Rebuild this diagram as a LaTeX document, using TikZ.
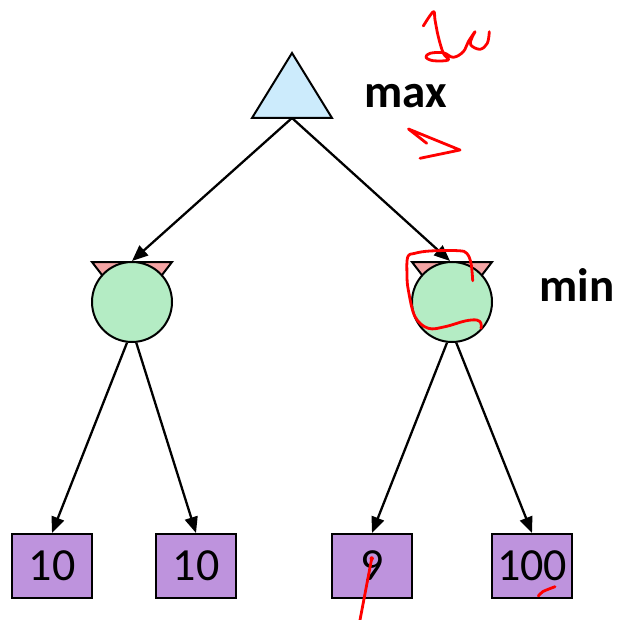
\documentclass[tikz,border=0pt]{standalone}
\usepackage{fontspec}
\setmainfont{Carlito}
\usetikzlibrary{arrows.meta}
\definecolor{maxblue}{RGB}{204,235,252}
\definecolor{mingreen}{RGB}{180,236,196}
\definecolor{earpink}{RGB}{244,164,164}
\definecolor{leafpurple}{RGB}{190,147,221}
\definecolor{inkred}{RGB}{255,0,0}
\tikzset{
  maxtri/.style={draw=black, line width=2pt, fill=maxblue, line join=miter},
  earstyle/.style={draw=black, line width=2pt, fill=earpink},
  minnode/.style={circle, draw=black, line width=2pt, fill=mingreen, minimum size=80pt, inner sep=0pt},
  leaf/.style={rectangle, draw=black, line width=2pt, fill=leafpurple, minimum width=80pt, minimum height=64pt, inner sep=0pt, font=\fontsize{46}{50}\selectfont},
  arr/.style={line width=2.3pt, -{Triangle[length=16pt,width=13pt]}},
  lbl/.style={font=\fontsize{47}{50}\selectfont\bfseries, anchor=base, inner sep=0pt},
  ink/.style={draw=inkred, line width=2.8pt, line cap=round, line join=round}
}
\begin{document}
\begin{tikzpicture}[x=1pt,y=-1pt]
\useasboundingbox (0,0) rectangle (618,620);
% max node
\draw[maxtri] (292,53) -- (332,118) -- (252,118) -- cycle;
\coordinate (maxbase) at (292,118);
\node[lbl] (maxlbl) at (406,108) {max};
% ears
\draw[earstyle] (92,262) -- (172,262) -- (132,314) -- cycle;
\draw[earstyle] (412,262) -- (492,262) -- (452,314) -- cycle;
% min nodes
\node[minnode] (L) at (132,302) {};
\node[minnode] (R) at (452,302) {};
\node[lbl] (minlbl) at (577,301.5) {min};
% leaves
\node[leaf] (b1) at (52,566) {10};
\node[leaf] (b2) at (196,566) {10};
\node[leaf] (b3) at (372,566) {9};
\node[leaf] (b4) at (532,566) {100};
% connectors
\draw[arr] (maxbase) -- (L.north);
\draw[arr] (maxbase) -- ([xshift=-2pt]R.north);
\draw[arr] (L.263) -- (b1.north);
\draw[arr] (L.276) -- (b2.north);
\draw[arr] (R.263) -- (b3.north);
\draw[arr] (R.276) -- (b4.north);
% red handwriting
\draw[ink] plot[smooth, tension=0.6] coordinates {(423.3,26) (433.3,11.7) (435,20) (438.3,36.7) (443.3,53.3) (448.3,60) (433.3,60.7) (426,57.3) (430,53.3) (443.3,52.7) (453.3,57.3) (463.3,51.7) (468.3,41.7) (475,31.7) (471.7,38.3) (470.7,45) (480,49.3) (487.3,43.3) (489.3,31.7)};
\draw[ink] (426.7,143.3) -- (408.5,129) -- (460,150) -- (420,158.3);
\draw[ink] plot[smooth, tension=0.6] coordinates {(472.7,280.7) (471,263.3) (466.7,253.3) (458.3,250.7) (430,251) (415,253.3) (407.7,257) (407,275) (408.3,290) (415,316.7) (428.3,328.3) (445,326.7) (465,321) (476.7,320) (481,323.3) (481,328.3)};
\draw[ink] (371.7,558.5) -- (360,620);
\fill[inkred] (371.7,558.5) circle (2.2pt);
\draw[ink] plot[smooth] coordinates {(538.3,596) (543,591.5) (555,586.7)};
\end{tikzpicture}
\end{document}
